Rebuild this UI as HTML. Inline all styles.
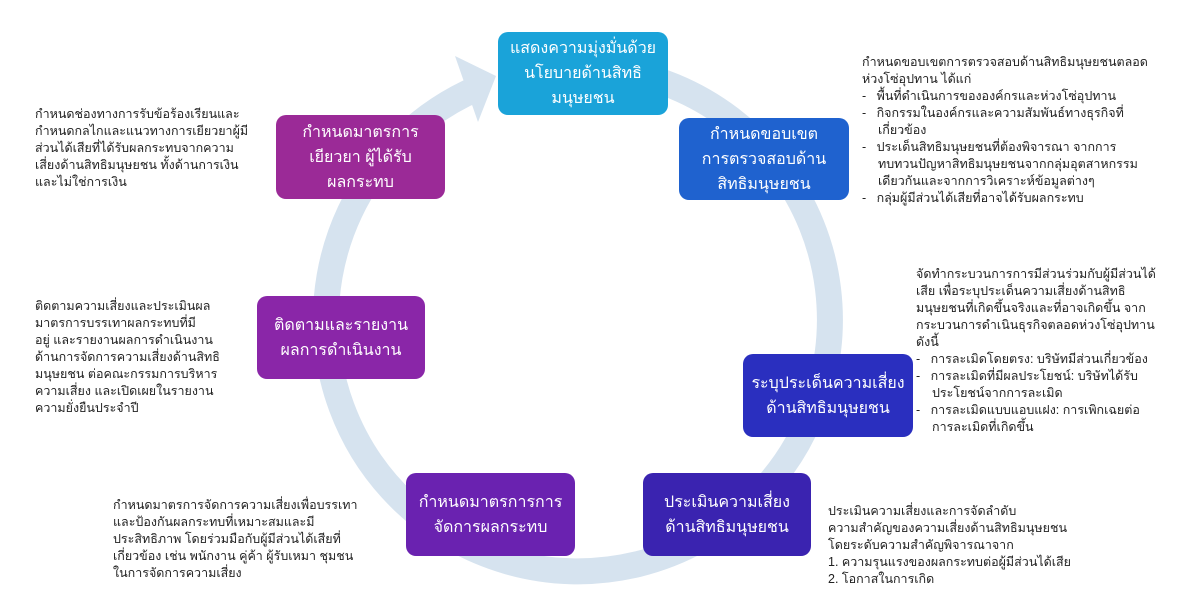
<!DOCTYPE html>
<html><head><meta charset="utf-8"><style>
body{margin:0;width:1200px;height:616px;background:#fff;position:relative;overflow:hidden;font-family:"Liberation Sans",sans-serif}
.b{position:absolute;border-radius:10px;color:#fff;font-size:16px;line-height:25px;text-align:center;display:flex;align-items:center;justify-content:center;box-sizing:border-box;padding:0 2px;white-space:nowrap}
.t{position:absolute;font-size:12.5px;line-height:17px;color:#222;white-space:nowrap}
.t ul{margin:0;padding:0;list-style:none}
.t li{padding-left:16px;text-indent:-16px}
</style></head><body>
<svg width="1200" height="616" style="position:absolute;left:0;top:0">
<path d="M 478 88 A 252 252 0 1 0 560 68" fill="none" stroke="#d6e3ef" stroke-width="26"/>
<polygon points="455,56 496,76 478,122" fill="#d6e3ef"/>
</svg>
<div class="b" style="left:498px;top:32px;width:170px;height:83px;background:#1aa3d9">แสดงความมุ่งมั่นด้วย<br>นโยบายด้านสิทธิ<br>มนุษยชน</div>
<div class="b" style="left:679px;top:118px;width:170px;height:82px;background:#1f62cf">กำหนดขอบเขต<br>การตรวจสอบด้าน<br>สิทธิมนุษยชน</div>
<div class="b" style="left:743px;top:354px;width:170px;height:83px;background:#2a2fbf">ระบุประเด็นความเสี่ยง<br>ด้านสิทธิมนุษยชน</div>
<div class="b" style="left:643px;top:473px;width:168px;height:83px;background:#3a23b0">ประเมินความเสี่ยง<br>ด้านสิทธิมนุษยชน</div>
<div class="b" style="left:406px;top:473px;width:169px;height:83px;background:#6a22b0">กำหนดมาตรการการ<br>จัดการผลกระทบ</div>
<div class="b" style="left:257px;top:296px;width:168px;height:83px;background:#8a26a8">ติดตามและรายงาน<br>ผลการดำเนินงาน</div>
<div class="b" style="left:276px;top:115px;width:169px;height:84px;background:#9b2a97">กำหนดมาตรการ<br>เยียวยา ผู้ได้รับ<br>ผลกระทบ</div>

<div class="t" style="left:862px;top:54px">กำหนดขอบเขตการตรวจสอบด้านสิทธิมนุษยชนตลอด<br>ห่วงโซ่อุปทาน ได้แก่
<ul><li>-&nbsp;&nbsp; พื้นที่ดำเนินการขององค์กรและห่วงโซ่อุปทาน</li><li>-&nbsp;&nbsp; กิจกรรมในองค์กรและความสัมพันธ์ทางธุรกิจที่<br>เกี่ยวข้อง</li><li>-&nbsp;&nbsp; ประเด็นสิทธิมนุษยชนที่ต้องพิจารณา จากการ<br>ทบทวนปัญหาสิทธิมนุษยชนจากกลุ่มอุตสาหกรรม<br>เดียวกันและจากการวิเคราะห์ข้อมูลต่างๆ</li><li>-&nbsp;&nbsp; กลุ่มผู้มีส่วนได้เสียที่อาจได้รับผลกระทบ</li></ul></div>
<div class="t" style="left:916px;top:266px">จัดทำกระบวนการการมีส่วนร่วมกับผู้มีส่วนได้<br>เสีย เพื่อระบุประเด็นความเสี่ยงด้านสิทธิ<br>มนุษยชนที่เกิดขึ้นจริงและที่อาจเกิดขึ้น จาก<br>กระบวนการดำเนินธุรกิจตลอดห่วงโซ่อุปทาน<br>ดังนี้
<ul><li>-&nbsp;&nbsp; การละเมิดโดยตรง: บริษัทมีส่วนเกี่ยวข้อง</li><li>-&nbsp;&nbsp; การละเมิดที่มีผลประโยชน์: บริษัทได้รับ<br>ประโยชน์จากการละเมิด</li><li>-&nbsp;&nbsp; การละเมิดแบบแอบแฝง: การเพิกเฉยต่อ<br>การละเมิดที่เกิดขึ้น</li></ul></div>
<div class="t" style="left:828px;top:503px">ประเมินความเสี่ยงและการจัดลำดับ<br>ความสำคัญของความเสี่ยงด้านสิทธิมนุษยชน<br>โดยระดับความสำคัญพิจารณาจาก<br>1. ความรุนแรงของผลกระทบต่อผู้มีส่วนได้เสีย<br>2. โอกาสในการเกิด</div>
<div class="t" style="left:113px;top:497px">กำหนดมาตรการจัดการความเสี่ยงเพื่อบรรเทา<br>และป้องกันผลกระทบที่เหมาะสมและมี<br>ประสิทธิภาพ โดยร่วมมือกับผู้มีส่วนได้เสียที่<br>เกี่ยวข้อง เช่น พนักงาน คู่ค้า ผู้รับเหมา ชุมชน<br>ในการจัดการความเสี่ยง</div>
<div class="t" style="left:35px;top:298px">ติดตามความเสี่ยงและประเมินผล<br>มาตรการบรรเทาผลกระทบที่มี<br>อยู่ และรายงานผลการดำเนินงาน<br>ด้านการจัดการความเสี่ยงด้านสิทธิ<br>มนุษยชน ต่อคณะกรรมการบริหาร<br>ความเสี่ยง และเปิดเผยในรายงาน<br>ความยั่งยืนประจำปี</div>
<div class="t" style="left:35px;top:106px">กำหนดช่องทางการรับข้อร้องเรียนและ<br>กำหนดกลไกและแนวทางการเยียวยาผู้มี<br>ส่วนได้เสียที่ได้รับผลกระทบจากความ<br>เสี่ยงด้านสิทธิมนุษยชน ทั้งด้านการเงิน<br>และไม่ใช่การเงิน</div>
</body></html>
